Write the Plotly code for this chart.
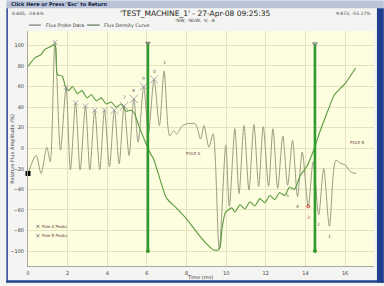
import plotly.graph_objects as go

# ---------------- data ----------------
probe_x = [0.0, 0.41, 0.66, 0.95, 1.12, 1.36, 1.64, 1.92, 2.14, 2.4, 2.63, 2.9, 3.12, 3.37, 3.62,
           3.86, 4.11, 4.36, 4.6, 4.85, 5.1, 5.34, 5.56, 5.84, 6.08, 6.36, 6.63, 6.87, 7.15, 7.35,
           7.5, 7.8, 8.1, 8.45, 8.71, 8.88, 9.13, 9.34, 9.65, 9.98, 10.16, 10.44, 10.65, 10.9,
           11.15, 11.4, 11.64, 11.87, 12.14, 12.36, 12.6, 12.86, 13.1, 13.35, 13.6, 13.84, 14.14,
           14.39, 14.67, 14.92, 15.21, 15.54, 15.79, 16.0, 16.28, 16.56]
probe_y = [-24.5, -7, -24.5, 1, -13, 103, -2, 59, -21, 44, -21, 41, -21, 37, -21,
           37, -18, 37, -15, 41, -7, 48, 6, 60, 15, 67, 22, 75, 12, 17,
           14, 22, 24, 23.5, 9, 22, 1, 14, -98, 3, -56.5, 19, -44, 22,
           -40.5, 23, -37, 21, -37, 19, -39, 12, -36, 7.5, -47, -3.7, -56.5,
           -13, -64.6, -19.7, -75.8, -11.7, -15, -16, -23, -24.5]

density_x = [0.0, 0.33, 0.66, 0.82, 1.15, 1.31, 1.4, 1.48, 1.73, 1.89, 2.05, 2.25, 2.5, 2.72,
             2.98, 3.2, 3.45, 3.7, 3.95, 4.2, 4.45, 4.7, 4.95, 5.15, 5.34, 5.59, 5.92, 6.17,
             6.33, 6.58, 6.99, 7.48, 7.97, 8.47, 8.96, 9.37, 9.6, 9.7, 9.78, 9.95, 10.1, 10.28,
             10.45, 10.7, 10.95, 11.2, 11.45, 11.7, 11.95, 12.2, 12.45, 12.7, 12.95, 13.2,
             13.45, 13.73, 14.06, 14.31, 14.47, 14.72, 14.96, 15.2, 15.46, 15.75, 16.03, 16.53]
density_y = [79.6, 87.7, 91, 95.7, 99, 100.5, 98, 71.6, 70, 60, 56, 60, 53, 56,
             49, 52, 46, 49, 43, 45, 40, 43, 36, 37, 35, 22, 6, -5,
             -10, -25, -48.5, -58, -68, -80.6, -92, -99, -99, -96, -80, -63, -60, -58,
             -62, -55, -59, -52, -56, -49, -53, -46, -50, -43, -46, -38,
             -40, -27, -18, -7, 1, 15.6, 28, 40, 52, 58, 63.6, 78]

peak_x = [1.36, 1.92, 2.4, 2.9, 3.37, 3.86, 4.36, 4.85, 5.34, 5.84, 6.36]
peak_y = [103, 59, 44, 41, 37, 37, 37, 41, 48, 60, 67]

peak_label_x = [4.85, 5.34, 5.84, 6.36, 6.87]
peak_label_y = [41, 48, 60, 67, 75]
peak_labels = ["7", "8", "9", "0", "1"]

trough_x = [13.1, 13.6, 14.14, 14.67, 15.21]
trough_y = [-36, -47, -56.5, -64.6, -75.8]
trough_labels = ["5", "4", "3", "2", "1"]

cursor_x = [6.05, 14.48]
cursor_top = [102, 101.5]
cursor_bottom = [-100, -100]

start_x, start_y = 0.0, -24.5

x_ticks = [0, 2, 4, 6, 8, 10, 12, 14, 16]
y_ticks = [-100, -80, -60, -40, -20, 0, 20, 40, 60, 80, 100]

# ---------------- layout constants ----------------
W_PX, H_PX = 384, 286
L, R, T, B = 22, 10, 31, 17
PW, PH = W_PX - L - R, H_PX - T - B
FONT = "DejaVu Sans"
GRAY = "#9c9c84"
GREEN = "#5b9a3f"
CUR = "#2f9b2f"


def px(xp):
    return (xp - L) / PW


def py(yp):
    return 1 - (yp - T) / PH


fig = go.Figure()

fig.add_trace(go.Scatter(x=probe_x, y=probe_y, mode="lines",
                         line=dict(color=GRAY, width=1, shape="spline", smoothing=0.8),
                         hoverinfo="skip", showlegend=False))
fig.add_trace(go.Scatter(x=density_x, y=density_y, mode="lines",
                         line=dict(color=GREEN, width=1.1, shape="spline", smoothing=0.55),
                         hoverinfo="skip", showlegend=False))

# cursors
for cx, ct, cb in zip(cursor_x, cursor_top, cursor_bottom):
    fig.add_trace(go.Scatter(x=[cx, cx], y=[cb, ct], mode="lines",
                             line=dict(color=CUR, width=2.6), showlegend=False, hoverinfo="skip"))
fig.add_trace(go.Scatter(x=cursor_x, y=cursor_top, mode="markers",
                         marker=dict(symbol="triangle-down-open", size=4, color="#707070",
                                     line=dict(width=1)), showlegend=False, hoverinfo="skip"))
fig.add_trace(go.Scatter(x=cursor_x, y=cursor_bottom, mode="markers",
                         marker=dict(symbol="circle", size=4, color=CUR), showlegend=False,
                         hoverinfo="skip"))

# pole A peak markers
peak_sizes = [5, 5, 5, 5, 5, 5, 8, 8, 8, 8, 8]
fig.add_trace(go.Scatter(x=peak_x, y=peak_y, mode="markers",
                         marker=dict(symbol="x-thin-open", size=peak_sizes, color="#8888a0",
                                     line=dict(width=1, color="#8888a0")),
                         showlegend=False, hoverinfo="skip"))

# start marker
fig.add_trace(go.Scatter(x=[start_x], y=[start_y], mode="markers",
                         marker=dict(symbol="square", size=5, color="black"),
                         showlegend=False, hoverinfo="skip", cliponaxis=False))

# red marker on trough 3
fig.add_trace(go.Scatter(x=[trough_x[2]], y=[trough_y[2]], mode="markers",
                         marker=dict(symbol="circle-open", size=3, color="#d04040"),
                         showlegend=False, hoverinfo="skip"))

# legend markers lower-left
fig.add_trace(go.Scatter(x=[0.5, 0.5], y=[-76, -85], mode="markers",
                         marker=dict(symbol="x-thin-open", size=3, color="#808080",
                                     line=dict(width=1, color="#808080")),
                         showlegend=False, hoverinfo="skip"))

ann = []
for lx, ly, lt in zip(peak_label_x, peak_label_y, peak_labels):
    ann.append(dict(x=lx, y=ly + 8, text=lt, showarrow=False,
                    font=dict(size=4.5, color="#606060", family=FONT)))
for i, (tx, ty, tt) in enumerate(zip(trough_x, trough_y, trough_labels)):
    ann.append(dict(x=tx, y=ty - (10 if i != 2 else 11), text=tt, showarrow=False,
                    font=dict(size=4.5, color="#d04040" if i == 2 else "#606060", family=FONT)))
ann.append(dict(x=8.35, y=-5, text="POLE A", showarrow=False,
                font=dict(size=4, color="#704040", family=FONT)))
ann.append(dict(x=16.65, y=6, text="POLE B", showarrow=False,
                font=dict(size=4, color="#704040", family=FONT)))
ann.append(dict(x=0.62, y=-76, text="Pole A Peaks", showarrow=False, xanchor="left",
                font=dict(size=4, color="#704040", family=FONT)))
ann.append(dict(x=0.62, y=-85, text="Pole B Peaks", showarrow=False, xanchor="left",
                font=dict(size=4, color="#704040", family=FONT)))

# header texts (paper coords)
ann.append(dict(xref="paper", yref="paper", x=px(3), y=py(4), text="<b>Click Here or Press 'Esc' to Return</b>",
                showarrow=False, xanchor="left", yanchor="middle",
                font=dict(size=5, color="#101840", family=FONT)))
ann.append(dict(xref="paper", yref="paper", x=px(4), y=py(13), text="0.605, -24.6%",
                showarrow=False, xanchor="left", yanchor="middle",
                font=dict(size=4.5, color="#404040", family=FONT)))
ann.append(dict(xref="paper", yref="paper", x=px(373), y=py(13), text="9.873, -55.27%",
                showarrow=False, xanchor="right", yanchor="middle",
                font=dict(size=4.5, color="#404040", family=FONT)))
ann.append(dict(xref="paper", yref="paper", x=px(192), y=py(13),
                text="'TEST_MACHINE_1' - 27-Apr-08 09:25:35",
                showarrow=False, xanchor="center", yanchor="middle",
                font=dict(size=7.5, color="#202020", family=FONT)))
ann.append(dict(xref="paper", yref="paper", x=px(192), y=py(20), text="-NW, -NUW, -V, -A",
                showarrow=False, xanchor="center", yanchor="middle",
                font=dict(size=4.5, color="#404040", family=FONT)))
ann.append(dict(xref="paper", yref="paper", x=px(38), y=py(25), text="Flux Probe Data",
                showarrow=False, xanchor="left", yanchor="middle",
                font=dict(size=4.8, color="#404040", family=FONT)))
ann.append(dict(xref="paper", yref="paper", x=px(97), y=py(25), text="Flux Density Curve",
                showarrow=False, xanchor="left", yanchor="middle",
                font=dict(size=4.8, color="#404040", family=FONT)))
ann.append(dict(xref="paper", yref="paper", x=px(197), y=py(280), text="Time (ms)",
                showarrow=False, xanchor="center", yanchor="middle",
                font=dict(size=5, color="#404040", family=FONT)))
ann.append(dict(xref="paper", yref="paper", x=px(6), y=0.5, text="Relative Flux Amplitude (%)",
                showarrow=False, textangle=-90, xanchor="center", yanchor="middle",
                font=dict(size=5, color="#404040", family=FONT)))

shapes = [
    dict(type="rect", xref="paper", yref="paper", x0=px(0), x1=px(384), y0=py(0), y1=py(8),
         fillcolor="#b9c4d9", line=dict(width=0), layer="below"),
    dict(type="rect", xref="paper", yref="paper", x0=px(377), x1=px(384), y0=py(8), y1=py(286),
         fillcolor="#1f3f8f", line=dict(width=0)),
    dict(type="rect", xref="paper", yref="paper", x0=px(0), x1=px(384), y0=py(283.5), y1=py(286),
         fillcolor="#1f3f8f", line=dict(width=0)),
    dict(type="rect", xref="paper", yref="paper", x0=px(0), x1=px(1.5), y0=py(8), y1=py(286),
         fillcolor="#1f3f8f", line=dict(width=0)),
    dict(type="line", xref="paper", yref="paper", x0=px(23), x1=px(35), y0=py(25), y1=py(25),
         line=dict(color="#606060", width=1)),
    dict(type="line", xref="paper", yref="paper", x0=px(82), x1=px(95), y0=py(25), y1=py(25),
         line=dict(color="#406040", width=1)),
]

fig.update_layout(
    width=W_PX, height=H_PX,
    margin=dict(l=L, r=R, t=T, b=B),
    paper_bgcolor="#f4f4f2",
    plot_bgcolor="#fdfddf",
    annotations=ann,
    shapes=shapes,
    showlegend=False,
    font=dict(family=FONT, size=5, color="#404040"),
)
fig.update_xaxes(range=[0, 17.46], tickvals=x_ticks, showgrid=True, gridcolor="#e6e2bf",
                 gridwidth=1, zeroline=False, showline=True, linecolor="#a8a8a0", linewidth=1,
                 ticks="", tickfont=dict(size=5, color="#404040"), ticklabelstandoff=2)
fig.update_yaxes(range=[-114.5, 114], tickvals=y_ticks, showgrid=True, gridcolor="#e6e2bf",
                 gridwidth=1, zeroline=False, showline=True, linecolor="#a8a8a0", linewidth=1,
                 ticks="", tickfont=dict(size=5, color="#404040"), ticklabelstandoff=2)

fig.write_html("out.html")
